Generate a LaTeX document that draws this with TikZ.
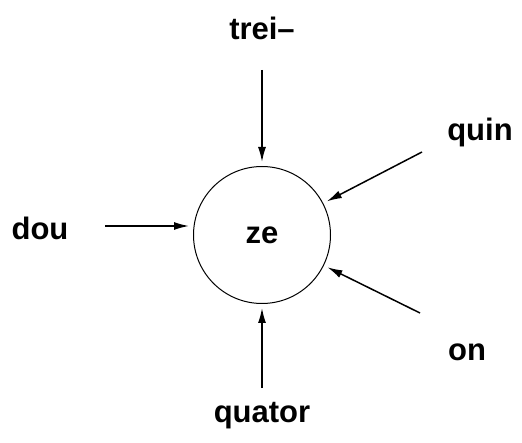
\documentclass[tikz,border=0pt]{standalone}
\usepackage{fontspec}
\setmainfont{Liberation Sans}
\usetikzlibrary{arrows.meta}
\begin{document}
\begin{tikzpicture}[x=1pt,y=1pt,
  lbl/.style={font=\fontsize{31}{36}\selectfont\bfseries, inner sep=0pt},
  arr/.style={line width=1.5pt, -{Latex[length=15pt,width=8pt]}, shorten >=4pt},
  hub/.style={circle, draw, line width=1pt, minimum size=137pt, inner sep=0pt, font=\fontsize{31}{36}\selectfont\bfseries}]
\useasboundingbox (0,0) rectangle (522,442);
\node[hub] (ze) at (262,207) {ze};
\node[lbl] (trei) at (262,414) {trei–};
\node[lbl] (quin) at (480,310) {quin};
\node[lbl] (dou) at (40,214) {dou};
\node[lbl] (on) at (467,90) {on};
\node[lbl] (quator) at (262,26) {quator};
\coordinate (t1) at (262,372);
\coordinate (q1) at (422,290);
\coordinate (d1) at (105,216);
\coordinate (o1) at (420,129);
\coordinate (u1) at (262,54);
\draw[arr] (t1) -- (ze);
\draw[arr] (q1) -- (ze);
\draw[arr] (d1) -- (d1 -| ze.west);
\draw[arr] (o1) -- (ze);
\draw[arr] (u1) -- (ze);
\end{tikzpicture}
\end{document}
